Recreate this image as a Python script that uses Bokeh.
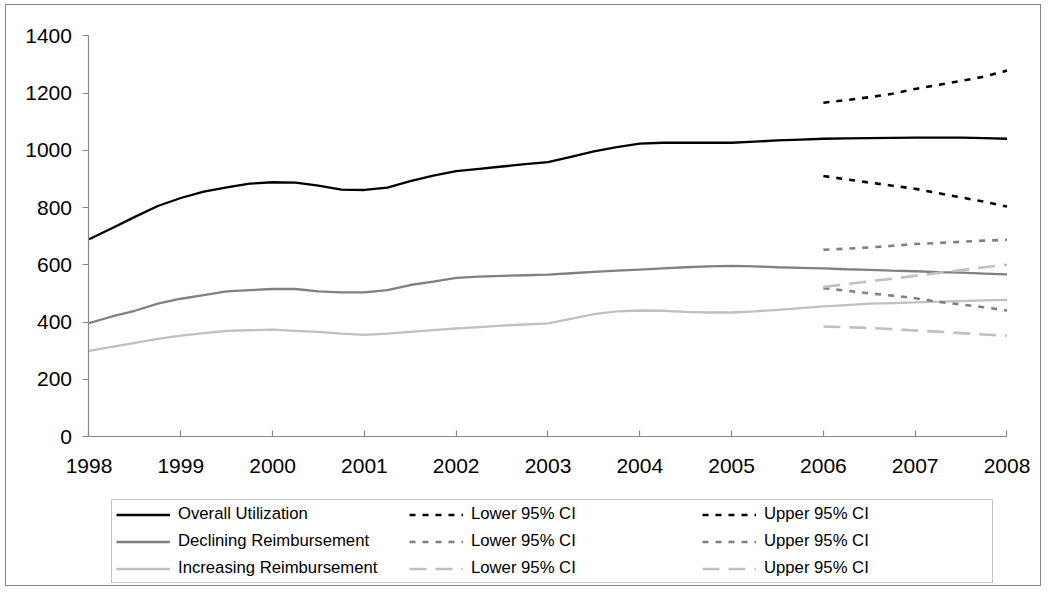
from bokeh.plotting import figure
from bokeh.models import Range1d, FixedTicker, Legend, LegendItem
from bokeh.embed import file_html
from bokeh.resources import INLINE

quarters = [1998.00, 1998.25, 1998.50, 1998.75, 1999.00, 1999.25, 1999.50, 1999.75,
            2000.00, 2000.25, 2000.50, 2000.75, 2001.00, 2001.25, 2001.50, 2001.75,
            2002.00, 2002.25, 2002.50, 2002.75, 2003.00, 2003.25, 2003.50, 2003.75,
            2004.00, 2004.25, 2004.50, 2004.75, 2005.00, 2005.25, 2005.50, 2005.75,
            2006.00, 2006.25, 2006.50, 2006.75, 2007.00, 2007.25, 2007.50, 2007.75,
            2008.00]

overall = [690, 728, 768, 806, 834, 856, 871, 884,
           889, 888, 877, 863, 862, 870, 893, 912,
           928, 936, 944, 952, 959, 978, 997, 1012,
           1024, 1027, 1027, 1027, 1027, 1031, 1035, 1038,
           1041, 1042, 1043, 1044, 1045, 1045, 1045, 1043,
           1041]

declining = [397, 420, 440, 465, 482, 495, 508, 512,
             516, 516, 508, 504, 504, 512, 530, 542,
             555, 559, 562, 564, 566, 571, 576, 580,
             584, 588, 592, 595, 597, 595, 592, 590,
             588, 585, 583, 580, 578, 575, 573, 570,
             567]

increasing = [300, 314, 328, 342, 353, 362, 370, 372,
              374, 370, 366, 360, 356, 360, 366, 372,
              378, 383, 388, 392, 396, 412, 428, 438,
              441, 440, 436, 434, 434, 438, 443, 449,
              455, 460, 465, 467, 469, 472, 474, 476,
              478]

ci_quarters = [2006.00, 2006.25, 2006.50, 2006.75, 2007.00, 2007.25, 2007.50, 2007.75, 2008.00]
overall_upper = [1167, 1176, 1186, 1198, 1215, 1229, 1243, 1258, 1279]
overall_lower = [911, 899, 888, 877, 866, 851, 836, 821, 804]
declining_upper = [653, 657, 661, 667, 673, 677, 681, 685, 688]
declining_lower = [519, 510, 501, 493, 484, 471, 462, 452, 441]
increasing_upper = [523, 533, 543, 552, 562, 572, 582, 592, 601]
increasing_lower = [385, 383, 380, 376, 371, 367, 362, 357, 353]

year_ticks = [1998, 1999, 2000, 2001, 2002, 2003, 2004, 2005, 2006, 2007, 2008]
value_ticks = [0, 200, 400, 600, 800, 1000, 1200, 1400]

FONT = "Liberation Sans"
BLACK = "#000000"
MID = "#808080"
LIGHT = "#c0c0c0"

# The frame covers almost the whole canvas so that the legend and the tick
# labels fit inside it; both axes are pinned (year axis at 0, value axis at
# 1998) and bounded to the data span.
p = figure(width=1036, height=582, output_backend="svg", toolbar_location=None,
           x_range=Range1d(1997.1885, 2008.2996), y_range=Range1d(-512.9, 1471.6))
p.min_border_left = 8
p.min_border_right = 8
p.min_border_top = 10
p.min_border_bottom = 4
p.outline_line_color = None
p.xgrid.visible = False
p.ygrid.visible = False
p.background_fill_color = "white"
p.border_fill_color = "white"
p.styles = {"margin-left": "5px", "margin-top": "4px", "border": "1.5px solid #858585"}

for ax in (p.xaxis[0], p.yaxis[0]):
    ax.axis_line_color = "#888888"
    ax.axis_line_width = 1.2
    ax.major_tick_line_color = "#888888"
    ax.major_tick_line_width = 1.2
    ax.minor_tick_line_color = None
    ax.major_label_text_font = FONT
    ax.major_label_text_font_size = "21px"
    ax.major_label_text_color = "#000000"

p.xaxis[0].ticker = FixedTicker(ticks=year_ticks)
p.xaxis[0].fixed_location = 0
p.xaxis[0].bounds = (1998, 2008)
p.xaxis[0].major_tick_in = 6
p.xaxis[0].major_tick_out = 0
p.xaxis[0].major_label_standoff = 22
p.yaxis[0].ticker = FixedTicker(ticks=value_ticks)
p.yaxis[0].fixed_location = 1998
p.yaxis[0].bounds = (0, 1400)
p.yaxis[0].major_tick_in = 0
p.yaxis[0].major_tick_out = 6
p.yaxis[0].major_label_standoff = 11

r_ov = p.line(quarters, overall, line_color=BLACK, line_width=2.3)
r_de = p.line(quarters, declining, line_color=MID, line_width=2.3)
r_in = p.line(quarters, increasing, line_color=LIGHT, line_width=2.3)

dot = "6 7"
dash = "17 9"
r_ov_lo = p.line(ci_quarters, overall_lower, line_color=BLACK, line_width=2.6, line_dash=dot)
r_ov_up = p.line(ci_quarters, overall_upper, line_color=BLACK, line_width=2.6, line_dash=dot)
r_de_lo = p.line(ci_quarters, declining_lower, line_color=MID, line_width=2.6, line_dash=dot)
r_de_up = p.line(ci_quarters, declining_upper, line_color=MID, line_width=2.6, line_dash=dot)
r_in_lo = p.line(ci_quarters, increasing_lower, line_color=LIGHT, line_width=2.6, line_dash=dash)
r_in_up = p.line(ci_quarters, increasing_upper, line_color=LIGHT, line_width=2.6, line_dash=dash)

items = [
    LegendItem(label="Overall Utilization", renderers=[r_ov]),
    LegendItem(label="Declining Reimbursement", renderers=[r_de]),
    LegendItem(label="Increasing Reimbursement", renderers=[r_in]),
    LegendItem(label="Lower 95% CI", renderers=[r_ov_lo]),
    LegendItem(label="Lower 95% CI", renderers=[r_de_lo]),
    LegendItem(label="Lower 95% CI", renderers=[r_in_lo]),
    LegendItem(label="Upper 95% CI", renderers=[r_ov_up]),
    LegendItem(label="Upper 95% CI", renderers=[r_de_up]),
    LegendItem(label="Upper 95% CI", renderers=[r_in_up]),
]
legend = Legend(items=items, ncols=3, orientation="vertical", location=(97, 0))
legend.label_text_font = FONT
legend.label_text_font_size = "16.7px"
legend.label_text_color = "#000000"
legend.glyph_width = 54
legend.glyph_height = 19
legend.label_height = 19
legend.label_width = 224
legend.label_standoff = 8
legend.spacing = 7
legend.padding = 4
legend.margin = 0
legend.border_line_color = "#888888"
legend.border_line_width = 1.2
legend.background_fill_alpha = 1.0
p.add_layout(legend, "center")

open("out.html", "w").write(file_html(p, INLINE))
